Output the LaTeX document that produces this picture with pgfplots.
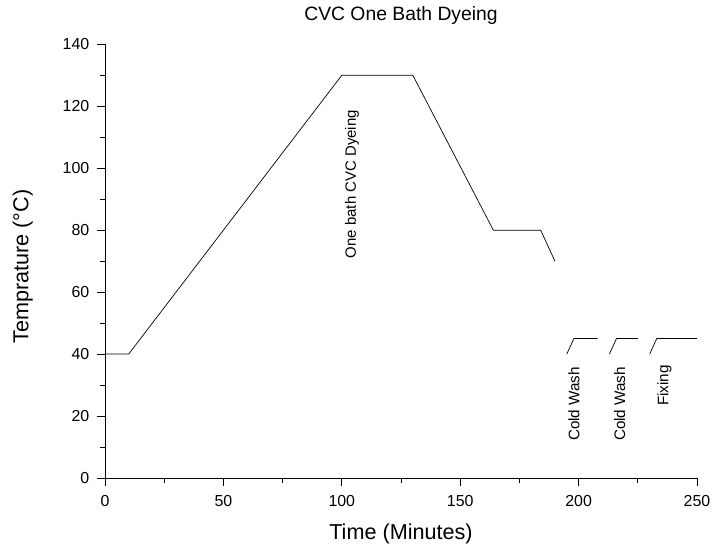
\documentclass[border=0pt]{standalone}
\usepackage{fontspec}
\setmainfont{Liberation Sans}
\usepackage{pgfplots}
\pgfplotsset{compat=1.18}
\begin{document}
\begin{tikzpicture}
\begin{axis}[
  at={(0,0)}, anchor=origin,
  scale only axis,
  width=592bp, height=433.7bp,
  xmin=0, xmax=250, ymin=0, ymax=140,
  axis lines=left,
  axis line style={-, line width=0.8bp},
  xtick={0,50,...,250}, ytick={0,20,...,140},
  minor xtick={25,75,...,225}, minor ytick={10,30,...,130},
  tick align=outside,
  major tick length=8bp, minor tick length=5bp,
  every tick/.style={black, line width=0.8bp},
  tick label style={font=\fontsize{16}{18}\selectfont},
  xticklabel style={inner sep=0pt, anchor=base, yshift=-20bp},
  yticklabel style={inner sep=0pt, anchor=east, xshift=-7.5bp},
  /pgf/number format/assume math mode=true,
  xlabel={Time (Minutes)},
  ylabel={Temprature (°C)},
  label style={font=\fontsize{21.7}{24}\selectfont},
  xlabel style={at={(axis description cs:0.5,-0.1413)}, anchor=base, inner sep=0pt},
  ylabel style={at={(axis description cs:-0.1296,0.487)}, anchor=base, inner sep=0pt},
  title={CVC One Bath Dyeing},
  title style={font=\fontsize{19.4}{22}\selectfont, at={(axis description cs:0.5,1)}, anchor=base, inner sep=0pt, yshift=17.6bp},
  clip=false,
]
\addplot[black, line width=0.7bp] coordinates {(0,40) (10,40) (100,130) (130,130) (164,80) (184,80) (190,70)};
\addplot[black, line width=0.7bp] coordinates {(195,40) (198,45) (208,45)};
\addplot[black, line width=0.7bp] coordinates {(213,40) (216,45) (225,45)};
\addplot[black, line width=0.7bp] coordinates {(230,40) (233,45) (250,45)};
\node[rotate=90, anchor=base east, font=\fontsize{15}{17}\selectfont, inner sep=0pt] at (axis cs:105.9,118.8) {One bath CVC Dyeing};
\node[rotate=90, anchor=base east, font=\fontsize{15.3}{17}\selectfont, inner sep=0pt] at (axis cs:200.3,35.9) {Cold Wash};
\node[rotate=90, anchor=base east, font=\fontsize{15.3}{17}\selectfont, inner sep=0pt] at (axis cs:219.6,35.9) {Cold Wash};
\node[rotate=90, anchor=base east, font=\fontsize{15.3}{17}\selectfont, inner sep=0pt] at (axis cs:237.9,36.5) {Fixing};
\end{axis}
\pgfresetboundingbox
\path[use as bounding box] (-105bp,-72bp) rectangle (607bp,478bp);
\end{tikzpicture}
\end{document}
